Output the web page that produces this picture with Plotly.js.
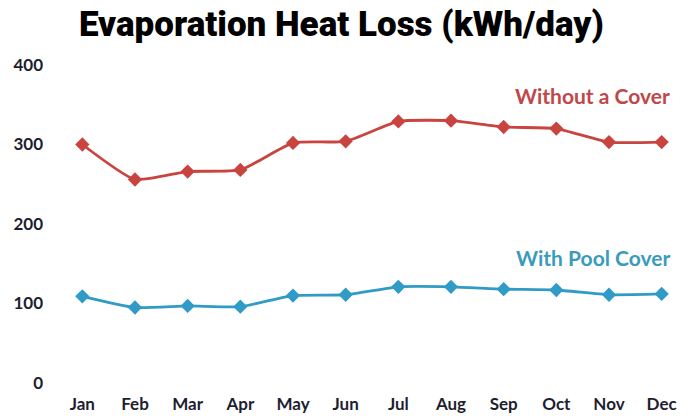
<!DOCTYPE html>
<html>
<head>
<meta charset="utf-8">
<script src="https://cdn.plot.ly/plotly-3.0.1.min.js"></script>
<style>html,body{margin:0;padding:0;background:#fff;}#chart{width:691px;height:416px;}</style>
</head>
<body>
<div id="chart"></div>
<script>
const months = ["Jan","Feb","Mar","Apr","May","Jun","Jul","Aug","Sep","Oct","Nov","Dec"];
const withoutCover = [300, 256, 266, 268, 302, 304, 329, 330, 322, 320, 303, 303];
const withCover = [109, 95, 97, 96, 110, 111, 121, 121, 118, 117, 111, 112];
const yTicks = [0, 100, 200, 300, 400];
const seriesNames = ["Without a Cover", "With Pool Cover"];

const red = "#C9443F";
const blue = "#2F9BC6";
const tickFont = {family: "Lato, sans-serif", size: 17, color: "#1e1e30", weight: 700};

const traces = [
  {x: months, y: withoutCover, name: seriesNames[0], type: "scatter", mode: "lines+markers",
   line: {color: red, width: 2.8, shape: "spline", smoothing: 0.5},
   marker: {symbol: "diamond", size: 11, color: red}},
  {x: months, y: withCover, name: seriesNames[1], type: "scatter", mode: "lines+markers",
   line: {color: blue, width: 2.8, shape: "spline", smoothing: 0.5},
   marker: {symbol: "diamond", size: 11, color: blue}}
];

const layout = {
  width: 691, height: 416,
  margin: {l: 56, r: 3, t: 65, b: 33},
  paper_bgcolor: "#fff", plot_bgcolor: "#fff",
  showlegend: false,
  title: {text: "Evaporation Heat Loss (kWh/day)", x: 0.494, xanchor: "center", y: 0.942, yanchor: "middle",
          font: {family: "Roboto, 'DejaVu Sans', sans-serif", size: 35, color: "#000", weight: 900}},
  xaxis: {type: "category", range: [-0.5, 11.5], showgrid: false, zeroline: false, showline: false,
          ticks: "", tickfont: tickFont, ticklabelstandoff: 9, fixedrange: true},
  yaxis: {range: [0, 400], tickvals: yTicks, ticktext: yTicks.map(String), showgrid: false, zeroline: false,
          showline: false, ticks: "", tickfont: tickFont, ticklabelstandoff: 12, fixedrange: true},
  annotations: [
    {text: seriesNames[0], xref: "paper", yref: "y", x: 0.975, y: 362, xanchor: "right", yanchor: "middle",
     showarrow: false, font: {family: "Lato, sans-serif", size: 21, color: "#C0474A", weight: 700}},
    {text: seriesNames[1], xref: "paper", yref: "y", x: 0.975, y: 158, xanchor: "right", yanchor: "middle",
     showarrow: false, font: {family: "Lato, sans-serif", size: 21, color: "#3A9BBB", weight: 700}}
  ]
};

Plotly.newPlot("chart", traces, layout, {displayModeBar: false, staticPlot: true});
</script>
</body>
</html>
